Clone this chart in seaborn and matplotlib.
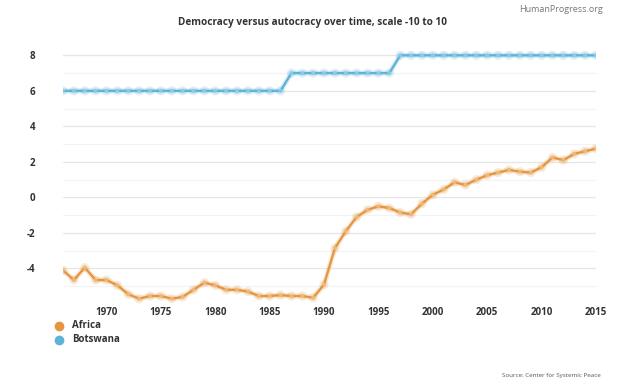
import numpy as np
import pandas as pd
import matplotlib
matplotlib.use("Agg")
import matplotlib.pyplot as plt
import matplotlib.patheffects as pe
import seaborn as sns

years = list(range(1966, 2016))
africa = [-4.1, -4.65, -3.95, -4.65, -4.65, -4.95, -5.45, -5.7, -5.55, -5.55,
          -5.7, -5.6, -5.2, -4.8, -4.95, -5.2, -5.2, -5.3, -5.55, -5.55,
          -5.5, -5.55, -5.55, -5.65, -4.9, -2.85, -1.9, -1.1, -0.7, -0.5,
          -0.6, -0.85, -0.95, -0.35, 0.15, 0.45, 0.85, 0.7, 1.0, 1.25,
          1.4, 1.55, 1.45, 1.4, 1.7, 2.25, 2.1, 2.45, 2.6, 2.75]
botswana = [6] * 21 + [7] * 10 + [8] * 19
series_names = ["Africa", "Botswana"]
colors = ["#E5963F", "#5DB3D8"]
light_colors = ["#EDB87A", "#8CCAE4"]
x_ticks = [1970, 1975, 1980, 1985, 1990, 1995, 2000, 2005, 2010, 2015]
y_ticks = [-4, -2, 0, 2, 4, 6, 8]
title = "Democracy versus autocracy over time, scale -10 to 10"

df = pd.DataFrame({
    "year": years * 2,
    "value": africa + botswana,
    "series": ["Africa"] * len(years) + ["Botswana"] * len(years),
})

sns.set_style("white")
plt.rcParams["font.family"] = ["Open Sans", "DejaVu Sans"]
plt.rcParams["axes.unicode_minus"] = False

fig = plt.figure(figsize=(6.24, 3.86), dpi=100)
ax = fig.add_axes([63 / 624, 1 - 304 / 386, (596 - 63) / 624, (304 - 50) / 386])

palette = dict(zip(series_names, colors))
sns.lineplot(data=df, x="year", y="value", hue="series", palette=palette,
             ax=ax, linewidth=1.7, marker="o", markersize=2.8,
             markeredgewidth=0, legend=False, zorder=3)
for line, c, lc in zip(ax.lines, colors, light_colors):
    line.set_markerfacecolor(lc)
    line.set_path_effects([pe.Stroke(linewidth=3.8, foreground=c, alpha=0.2), pe.Normal()])

ax.set_xlim(1966, 2015)
ax.set_ylim(-6, 8.3)
for v in range(-5, 9):
    ax.axhline(v, color="#E6E6E6" if v % 2 == 0 else "#F3F3F3", linewidth=0.9, zorder=0)
ax.set_xticks(x_ticks)
ax.set_yticks(y_ticks)
ax.tick_params(axis="both", length=0, labelsize=7, labelcolor="#333333")
ax.tick_params(axis="x", pad=2)
ax.tick_params(axis="y", pad=20)
for lbl in ax.get_xticklabels() + ax.get_yticklabels():
    lbl.set_fontweight("bold")
ax.set_xlabel("")
ax.set_ylabel("")
for s in ax.spines.values():
    s.set_visible(False)

fig.text(0.5, 1 - 22 / 386, title, ha="center", va="center", fontsize=7.2,
         fontweight="bold", color="#333333")
fig.text(603 / 624, 1 - 10 / 386, "HumanProgress.org", ha="right", va="center",
         fontsize=6.5, color="#777777")
fig.text(601 / 624, 1 - 375 / 386, "Source: Center for Systemic Peace", ha="right",
         va="center", fontsize=4.5, color="#555555")

for i, (name, c) in enumerate(zip(series_names, colors)):
    y = 1 - (326 + i * 14) / 386
    fig.lines.append(plt.Line2D([59 / 624], [y], marker="o", markersize=6,
                                color=c, linestyle="none", transform=fig.transFigure))
    fig.text(72 / 624, y, name, ha="left", va="center", fontsize=7,
             fontweight="bold", color="#333333")

fig.savefig("out.png", dpi=100)
